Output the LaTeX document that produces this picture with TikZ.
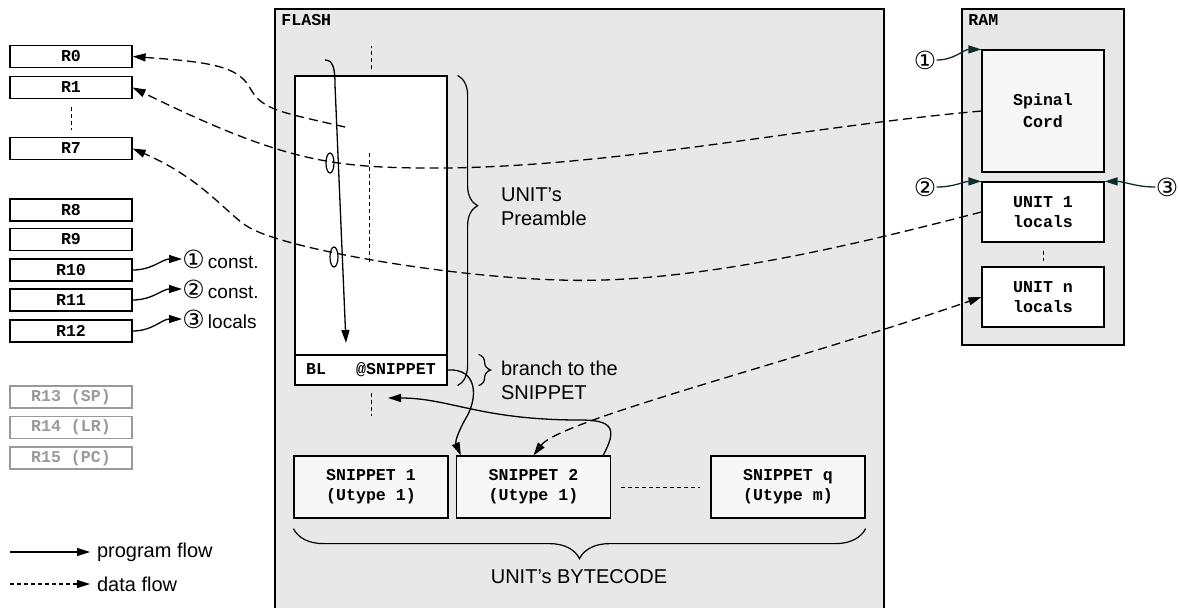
\documentclass[tikz,border=0pt]{standalone}
\usepackage{fontspec}
\setmainfont{Liberation Sans}
\setmonofont{Liberation Mono}
\newfontfamily\circfont{DejaVu Sans}
\usetikzlibrary{arrows.meta,decorations.pathreplacing,shapes.geometric}
\definecolor{memgray}{HTML}{E8E8E8}
\definecolor{boxgray}{HTML}{F7F7F7}
\definecolor{dimgray}{HTML}{9A9A9A}
\definecolor{wire}{HTML}{0F2C2C}
\newcommand\regfont{\ttfamily\bfseries\fontsize{8.3}{10}\selectfont}
\newcommand\notefont{\fontsize{9.5}{11}\selectfont}
\newcommand\numfont{\circfont\fontsize{12.5}{12.5}\selectfont}

\begin{document}
\begin{tikzpicture}[x=0.5pt,y=-0.5pt,
  reg/.style={draw, fill=white, line width=0.6pt, minimum width=61pt, minimum height=11pt, inner sep=0pt, font=\regfont},
  mem/.style={draw, fill=memgray, line width=0.6pt, inner sep=0pt},
  membox/.style={draw, line width=0.6pt, minimum width=61pt, inner sep=0pt, align=center, font=\regfont},
  snipbox/.style={draw, fill=boxgray, line width=0.6pt, minimum width=77pt, minimum height=31pt, inner sep=0pt, align=center, font=\regfont},
  pflow/.style={line width=0.65pt, -{Triangle[length=6.5pt,width=4pt]}},
  dflow/.style={line width=0.65pt, dash pattern=on 4.5pt off 2.5pt, -{Triangle[length=6.5pt,width=4pt]}},
  dotline/.style={line width=0.5pt, dash pattern=on 2pt off 1.5pt},
  bracedec/.style={decorate, line width=0.6pt}]
\path[use as bounding box, fill=white] (0,0) rectangle (1178,607);

% memories
\node[mem, minimum width=304.5pt, minimum height=305.5pt] (flash) at (579.5,314.5) {};
\node[anchor=west, font=\regfont, inner sep=0pt] (flashlbl) at (281,20) {FLASH};
\node[mem, minimum width=81pt, minimum height=168pt] (ram) at (1043,177) {};
\node[anchor=west, font=\regfont, inner sep=0pt] (ramlbl) at (968,20) {RAM};

% registers
\node[reg] (r0) at (71,56.5) {R0};
\node[reg] (r1) at (71,87.5) {R1};
\node[reg] (r7) at (71,148.5) {R7};
\node[reg] (r8) at (71,210) {R8};
\node[reg] (r9) at (71,239.5) {R9};
\node[reg] (r10) at (71,270) {R10};
\node[reg] (r11) at (71,300) {R11};
\node[reg] (r12) at (71,331) {R12};
\node[reg, draw=dimgray, text=dimgray] (r13) at (71,397) {R13 (SP)};
\node[reg, draw=dimgray, text=dimgray] (r14) at (71,427.5) {R14 (LR)};
\node[reg, draw=dimgray, text=dimgray] (r15) at (71,458) {R15 (PC)};
\draw[dotline] ([yshift=-4pt]r1.south) -- ([yshift=-15.5pt]r1.south);

\node[anchor=west, inner sep=0pt, font=\notefont] (c1l) at (182,259) {{\numfont ①}\,const.};
\node[anchor=west, inner sep=0pt, font=\notefont] (c2l) at (182,289) {{\numfont ②}\,const.};
\node[anchor=west, inner sep=0pt, font=\notefont] (c3l) at (182,319) {{\numfont ③}\,locals};
\draw[pflow] (r10.east) to[out=0,in=180] (c1l.west);
\draw[pflow] (r11.east) to[out=0,in=180] (c2l.west);
\draw[pflow] (r12.east) to[out=0,in=180] (c3l.west);

% RAM content
\node[membox, fill=boxgray, minimum height=61pt] (sc) at (1043,111) {Spinal\\[1pt]Cord};
\node[membox, fill=white, minimum height=30pt] (u1) at (1043,212) {UNIT 1\\locals};
\node[membox, fill=white, minimum height=30pt] (un) at (1043,297) {UNIT n\\locals};
\draw[dotline] ([yshift=-4pt]u1.south) -- ([yshift=2.5pt]un.north);
\node[font=\numfont, inner sep=0pt] (c1r) at (925,60) {①};
\node[font=\numfont, inner sep=0pt] (c2r) at (925,187) {②};
\node[font=\numfont, inner sep=0pt] (c3r) at (1167,187) {③};
\draw[pflow, wire] (c1r.east) to[out=0,in=180] (sc.north west);
\draw[pflow, wire] (c2r.east) to[out=0,in=180] (u1.north west);
\draw[pflow, wire] (c3r.west) to[out=180,in=0] (u1.north east);

% FLASH content
\node[draw, fill=white, line width=0.6pt, minimum width=76pt, minimum height=139.5pt, inner sep=0pt] (pre) at (371,215.5) {};
\node[draw, fill=white, line width=0.6pt, minimum width=76pt, minimum height=15pt, inner sep=0pt, font=\regfont] (blrow) at (371,370) {BL\hspace{15pt}@SNIPPET};
\draw[dotline] ([yshift=3pt]pre.north) -- ([yshift=14.5pt]pre.north);
\draw[dotline] ([yshift=-3.5pt]blrow.south) -- ([yshift=-15pt]blrow.south);
\coordinate (mid1) at (369,153);
\coordinate (mid2) at (369,263);
\draw[dotline] (mid1) -- (mid2);

\node[snipbox] (snip1) at (371,487) {SNIPPET 1\\(Utype 1)};
\node[snipbox] (snip2) at (533.5,487) {SNIPPET 2\\(Utype 1)};
\node[snipbox] (snipq) at (788,487) {SNIPPET q\\(Utype m)};
\draw[dotline] ([xshift=5pt]snip2.east) -- ([xshift=-5pt]snipq.west);

% braces
\draw[bracedec, decoration={brace, amplitude=10pt, aspect=0.42}] ([xshift=5pt]pre.north east) -- ([xshift=5pt]blrow.south east);
\node[anchor=west, align=left] (prelbl) at (494,207) {UNIT's\\Preamble};
\draw[bracedec, decoration={brace, amplitude=6pt}] ([xshift=15.5pt]blrow.north east) -- ([xshift=15.5pt]blrow.south east);
\node[anchor=west, align=left] (brlbl) at (494,380) {branch to the\\SNIPPET};
\draw[bracedec, decoration={brace, amplitude=15pt}] ([yshift=-5pt]snipq.south east) -- ([yshift=-5pt]snip1.south west);
\node (bclbl) at (579,577) {UNIT's BYTECODE};

% program flow
\coordinate (pfa) at (325,60);
\coordinate (pfb) at (346,343);
\draw[pflow] (pfa) .. controls (333,60) and (335,68) .. (335,85) -- (pfb);
\draw[pflow] (blrow.east) .. controls (478,368) and (478,398) .. (466,418) .. controls (458,432) and (455,442) .. ([xshift=2.5pt]snip2.north west);
\coordinate (retpt) at (388,398);
\draw[pflow] ([xshift=-4pt]snip2.north east) .. controls (618,428) and (612,420) .. (580,420) .. controls (480,420) and (450,398) .. (retpt);

% data flow
\coordinate (d0) at (345,127);
\draw[dflow] (d0) .. controls (280,112) and (262,110) .. (250,88) .. controls (238,66) and (210,62) .. (r0.east);
\draw[dflow] (sc.west) .. controls (800,127) and (600,170) .. (420,168) .. controls (330,167) and (280,160) .. (r1.east);
\draw[dflow] (u1.west) .. controls (880,238) and (700,285) .. (560,280) .. controls (450,277) and (290,250) .. (250,228) .. controls (228,216) and (205,180) .. (r7.east);
\draw[dflow, {Triangle[length=6.5pt,width=4pt]}-{Triangle[length=6.5pt,width=4pt]}] (snip2.north) .. controls (560,420) and (800,360) .. (un.west);
\node[draw, ellipse, line width=0.6pt, minimum width=4pt, minimum height=10pt, inner sep=0pt] (hop1) at (330,163) {};
\node[draw, ellipse, line width=0.6pt, minimum width=4pt, minimum height=10pt, inner sep=0pt] (hop2) at (334,257) {};

% legend
\coordinate (lgp) at (10,552);
\node[anchor=west] (lgptxt) at (90,552) {program flow};
\draw[pflow] (lgp) -- (lgptxt.west);
\coordinate (lgd) at (10,584);
\node[anchor=west] (lgdtxt) at (90,584) {data flow};
\draw[pflow, dash pattern=on 2pt off 1.5pt] (lgd) -- (lgdtxt.west);
\end{tikzpicture}
\end{document}
